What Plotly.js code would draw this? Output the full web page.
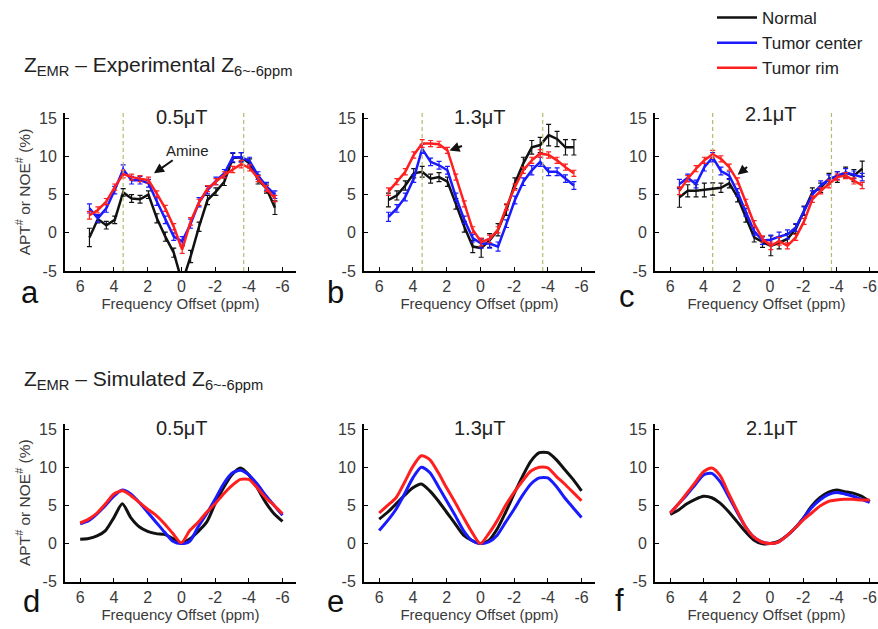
<!DOCTYPE html>
<html>
<head>
<meta charset="utf-8">
<script src="https://cdn.plot.ly/plotly-3.0.1.min.js"></script>
<style>html,body{margin:0;padding:0;background:#fff;}#chart{width:878px;height:629px;}</style>
</head>
<body>
<div id="chart"></div>
<script>
// ---------- DATA ----------
const seriesNames = ['Normal', 'Tumor center', 'Tumor rim'];
const panelTitles = ['0.5μT', '1.3μT', '2.1μT'];
const panelLetters = ['a', 'b', 'c', 'd', 'e', 'f'];
const xTickVals = [6, 4, 2, 0, -2, -4, -6];
const xTickText = ['6', '4', '2', '0', '-2', '-4', '-6'];
const yTickVals = [-5, 0, 5, 10, 15];
const yTickText = ['-5', '0', '5', '10', '15'];
const dashedLinePpm = [3.45, -3.7];

// experimental offsets (ppm)
const xExp = [5.45, 4.95, 4.45, 3.95, 3.45, 2.95, 2.45, 1.95, 1.45, 0.95, 0.45, -0.05, -0.55, -1.05, -1.55, -2.05, -2.55, -3.05, -3.55, -4.05, -4.55, -5.05, -5.55];
// simulated offsets (ppm)
const xSim = [6, 5.5, 5, 4.5, 4, 3.5, 3, 2.5, 2, 1.5, 1, 0.5, 0, -0.5, -1, -1.5, -2, -2.5, -3, -3.5, -4, -4.5, -5, -5.5, -6];

// panel a (0.5 uT, experimental)
const expNormalA = [-0.6, 1.8, 1.0, 1.7, 5.3, 4.5, 4.4, 5.0, 1.9, -0.5, -2.6, -6.5, -3.1, 0.8, 4.3, 5.4, 6.7, 9.8, 9.9, 9.1, 7.0, 5.8, 3.3];
const expCenterA = [3.2, 1.9, 3.2, 5.6, 8.3, 6.9, 6.9, 6.5, 4.1, 1.7, -0.5, -1.1, 1.2, 4.0, 5.6, 6.8, 7.8, 9.9, 9.9, 9.4, 7.5, 6.1, 5.0];
const expRimA    = [2.3, 3.0, 4.1, 6.0, 7.7, 7.3, 7.1, 6.9, 5.1, 3.2, 0.8, -2.2, 1.5, 4.0, 5.8, 6.7, 7.6, 8.3, 9.0, 8.5, 7.1, 5.8, 4.5];
// panel b (1.3 uT, experimental)
const expNormalB = [4.3, 4.9, 6.2, 7.8, 8.0, 7.1, 7.3, 6.7, 3.8, 0.8, -1.8, -2.0, -1.0, 0.4, 3.0, 6.5, 9.1, 11.2, 11.5, 12.8, 12.3, 11.2, 11.2];
const expCenterB = [2.1, 3.2, 4.7, 7.1, 11.0, 9.3, 8.85, 8.2, 4.7, 1.7, -0.7, -1.4, -1.4, -1.8, 1.2, 4.3, 6.7, 8.2, 9.3, 8.0, 8.0, 7.1, 6.2];
const expRimB    = [5.4, 6.7, 8.0, 10.2, 11.7, 11.7, 11.6, 10.8, 7.3, 3.8, 0.4, -1.2, -0.8, 0.4, 3.4, 6.0, 8.2, 9.5, 10.4, 10.2, 9.5, 8.6, 7.8];
// panel c (2.1 uT, experimental)
const expNormalC = [4.65, 5.5, 5.5, 5.6, 5.75, 5.9, 6.5, 4.65, 2.0, -0.6, -1.2, -1.7, -1.3, -0.8, 0.5, 2.9, 5.3, 5.9, 7.1, 7.3, 7.9, 7.5, 8.4];
const expCenterC = [6.4, 7.2, 6.4, 8.6, 9.9, 8.1, 7.5, 5.3, 2.7, 0.2, -1.0, -0.9, -0.5, -0.2, 0.7, 2.9, 5.0, 6.2, 7.0, 7.5, 7.9, 7.6, 7.3];
const expRimC    = [5.5, 7.1, 8.4, 9.5, 10.3, 9.7, 8.6, 6.8, 4.0, 1.2, -0.8, -1.7, -1.1, -1.7, -0.6, 1.5, 4.4, 5.5, 6.4, 7.3, 7.5, 6.8, 6.2];

// error bars (experimental)
const errNormalA = [1.2, 0.5, 0.5, 0.5, 0.5, 0.5, 0.5, 0.5, 0.6, 0.6, 0.6, 0.8, 0.8, 0.6, 0.6, 0.5, 0.5, 0.6, 0.6, 0.6, 0.6, 0.6, 0.9];
const errNormalB = [0.9, 0.6, 0.6, 0.6, 0.7, 0.6, 0.6, 0.6, 0.7, 0.7, 0.8, 1.2, 0.9, 0.8, 0.7, 0.7, 0.8, 0.9, 1.0, 1.4, 1.0, 1.0, 1.0];
const errNormalC = [1.3, 0.8, 0.8, 0.9, 0.8, 0.6, 0.6, 0.6, 0.6, 0.6, 0.7, 1.3, 0.8, 0.7, 0.6, 0.6, 0.6, 0.6, 0.7, 0.7, 0.7, 0.8, 1.0];
const errCenter  = [0.6, 0.5, 0.5, 0.5, 0.6, 0.5, 0.5, 0.5, 0.5, 0.5, 0.5, 0.6, 0.6, 0.6, 0.5, 0.5, 0.5, 0.6, 0.6, 0.5, 0.5, 0.5, 0.5];
const errRim     = [0.5, 0.4, 0.4, 0.4, 0.5, 0.4, 0.4, 0.4, 0.4, 0.4, 0.4, 0.5, 0.5, 0.4, 0.4, 0.4, 0.4, 0.4, 0.5, 0.4, 0.4, 0.4, 0.4];

// panel d (0.5 uT, simulated)
const simNormalD = [0.56, 0.65, 1.0, 1.7, 3.4, 5.2, 3.4, 2.2, 1.6, 1.3, 1.2, 0.65, 0.0, 0.6, 1.6, 2.8, 5.2, 7.3, 9.0, 9.9, 9.0, 7.3, 5.4, 3.9, 2.9];
const simCenterD = [2.6, 3.0, 3.9, 5.0, 6.2, 7.0, 6.5, 5.4, 4.1, 2.8, 1.5, 0.3, 0.0, 0.3, 2.2, 3.9, 5.8, 7.8, 9.2, 9.6, 9.0, 7.8, 6.3, 5.0, 3.7];
const simRimD    = [2.7, 3.2, 4.0, 5.2, 6.5, 6.9, 6.3, 5.4, 4.5, 3.7, 2.6, 1.3, 0.1, 1.7, 2.8, 4.1, 5.2, 6.5, 7.6, 8.4, 8.4, 7.3, 6.0, 5.0, 3.9];
// panel e (1.3 uT, simulated)
const simNormalE = [3.2, 4.1, 5.2, 6.3, 7.3, 7.8, 6.9, 5.6, 4.1, 2.6, 1.1, 0.4, 0.0, 0.4, 1.9, 4.1, 6.5, 8.8, 10.8, 11.9, 11.9, 11.0, 9.7, 8.4, 6.9];
const simCenterE = [1.7, 3.0, 4.5, 6.5, 8.6, 10.0, 9.3, 7.5, 5.6, 3.7, 1.7, 0.4, 0.0, 0.2, 1.1, 2.8, 4.5, 6.3, 7.8, 8.6, 8.6, 7.5, 6.0, 4.7, 3.4];
const simRimE    = [4.0, 5.0, 6.0, 8.0, 10.1, 11.5, 11.0, 9.3, 7.3, 5.4, 3.4, 1.5, 0.0, 1.3, 3.0, 5.0, 6.7, 8.2, 9.5, 10.0, 9.9, 8.8, 7.8, 6.7, 5.6];
// panel f (2.1 uT, simulated)
const simNormalF = [3.8, 4.4, 5.2, 5.8, 6.2, 6.0, 5.3, 4.2, 2.9, 1.6, 0.5, 0.0, 0.0, 0.3, 1.0, 2.0, 3.3, 4.9, 6.0, 6.7, 7.0, 6.8, 6.6, 6.2, 5.5];
const simCenterF = [4.0, 5.2, 6.4, 7.7, 9.0, 9.2, 8.1, 6.2, 4.2, 2.3, 0.9, 0.2, 0.0, 0.2, 1.0, 2.0, 3.3, 4.7, 5.7, 6.4, 6.7, 6.5, 6.2, 5.8, 5.4];
const simRimF    = [4.0, 5.2, 6.6, 8.0, 9.4, 9.9, 8.9, 6.6, 4.4, 2.3, 0.9, 0.2, 0.0, 0.2, 1.0, 2.0, 3.1, 4.0, 4.9, 5.5, 5.7, 5.8, 5.8, 5.7, 5.7];

// ---------- STYLE / LAYOUT ----------
const W = 878, H = 629;
const px = v => v / W;
const py = v => 1 - v / H;
const colors = ['#111111', '#1a1aff', '#ff1f1f'];
const FONT = 'Liberation Sans, Arial, sans-serif';
const TXT = '#3a3a3a';

const colDomains = [[px(65), px(296)], [px(364), px(595)], [px(655), 1]];
const rowDomains = [[py(271), py(113)], [py(581.7), py(423.7)]];
const colRanges = [[6.9, -6.8], [6.9, -6.8], [6.92, -6.5]];

const panels = [
  {x: xExp, ys: [expNormalA, expCenterA, expRimA], errs: [errNormalA, errCenter, errRim], sim: false},
  {x: xExp, ys: [expNormalB, expCenterB, expRimB], errs: [errNormalB, errCenter, errRim], sim: false},
  {x: xExp, ys: [expNormalC, expCenterC, expRimC], errs: [errNormalC, errCenter, errRim], sim: false},
  {x: xSim, ys: [simNormalD, simCenterD, simRimD], sim: true},
  {x: xSim, ys: [simNormalE, simCenterE, simRimE], sim: true},
  {x: xSim, ys: [simNormalF, simCenterF, simRimF], sim: true}
];

const traces = [];
const layout = {
  width: W, height: H,
  margin: {l: 0, r: 0, t: 0, b: 0},
  paper_bgcolor: '#fff', plot_bgcolor: 'rgba(0,0,0,0)',
  font: {family: FONT, color: TXT, size: 15},
  showlegend: true,
  legend: {x: px(712), y: py(0), xanchor: 'left', yanchor: 'top', bgcolor: 'rgba(0,0,0,0)',
           font: {family: FONT, size: 17, color: '#222'}, tracegroupgap: 0, itemwidth: 40},
  annotations: [], shapes: []
};

panels.forEach((p, i) => {
  const n = i + 1;
  const xa = n === 1 ? 'x' : 'x' + n;
  const ya = n === 1 ? 'y' : 'y' + n;
  const col = i % 3, row = Math.floor(i / 3);
  p.ys.forEach((ys, s) => {
    const t = {
      type: 'scatter', mode: 'lines', x: p.x, y: ys, xaxis: xa, yaxis: ya,
      name: seriesNames[s], legendgroup: seriesNames[s], showlegend: i === 0,
      line: {color: colors[s], width: p.sim ? 3 : 2.5, shape: p.sim ? 'spline' : 'linear', smoothing: 0.7},
      hoverinfo: 'skip'
    };
    if (!p.sim) {
      t.error_y = {type: 'data', array: p.errs[s], visible: true, color: colors[s], thickness: 1.2, width: 2.5};
    }
    traces.push(t);
  });
  const xKey = n === 1 ? 'xaxis' : 'xaxis' + n;
  const yKey = n === 1 ? 'yaxis' : 'yaxis' + n;
  layout[xKey] = {
    domain: colDomains[col], anchor: ya, range: colRanges[col],
    tickmode: 'array', tickvals: xTickVals, ticktext: xTickText,
    ticks: 'inside', ticklen: 4, tickwidth: 1, tickcolor: '#000',
    showline: true, linecolor: '#000', linewidth: 2, showgrid: false, zeroline: false,
    tickfont: {family: FONT, size: 16, color: TXT},
    title: {text: 'Frequency Offset (ppm)', font: {family: FONT, size: 15, color: TXT}, standoff: 0},
    automargin: false, fixedrange: true
  };
  const yAxisObj = {
    domain: rowDomains[row], anchor: xa, range: [-5, 15.7],
    tickmode: 'array', tickvals: yTickVals, ticktext: yTickText,
    ticks: 'inside', ticklen: 4, tickwidth: 1, tickcolor: '#000',
    showline: true, linecolor: '#000', linewidth: 2, showgrid: false, zeroline: false,
    tickfont: {family: FONT, size: 16, color: TXT}, ticklabelstandoff: 3,
    automargin: false, fixedrange: true
  };
  if (col === 0) {
    yAxisObj.title = {text: 'APT<sup>#</sup> or NOE<sup>#</sup> (%)', font: {family: FONT, size: 15.5, color: TXT}, standoff: 5};
  }
  layout[yKey] = yAxisObj;
  // dashed reference lines in experimental panels
  if (!p.sim) {
    dashedLinePpm.forEach(v => {
      layout.shapes.push({type: 'line', xref: xa, yref: ya + ' domain', x0: v, x1: v, y0: 0, y1: 1,
        line: {color: '#b9b86e', width: 1.2, dash: '4px,3px'}});
    });
  }
});

// headings
layout.annotations.push(
  {xref: 'paper', yref: 'paper', x: px(22), y: py(66), xanchor: 'left', yanchor: 'middle', showarrow: false,
   text: 'Z<sub>EMR</sub> – Experimental Z<sub>6~-6ppm</sub>', font: {family: FONT, size: 21, color: '#222'}},
  {xref: 'paper', yref: 'paper', x: px(22), y: py(380), xanchor: 'left', yanchor: 'middle', showarrow: false,
   text: 'Z<sub>EMR</sub> – Simulated Z<sub>6~-6ppm</sub>', font: {family: FONT, size: 21, color: '#222'}}
);
// panel titles
const titlePos = [[182, 117], [480, 117], [771, 114], [182, 428], [480, 428], [772, 428]];
titlePos.forEach((tp, i) => {
  layout.annotations.push({xref: 'paper', yref: 'paper', x: px(tp[0]), y: py(tp[1]), xanchor: 'center', yanchor: 'middle',
    showarrow: false, text: panelTitles[i % 3], font: {family: FONT, size: 20, color: '#222'}});
});
// panel letters
const letterPos = [[30, 292], [335, 292], [627, 296], [31, 601], [335, 601], [619, 600]];
letterPos.forEach((lp, i) => {
  layout.annotations.push({xref: 'paper', yref: 'paper', x: px(lp[0]), y: py(lp[1]), xanchor: 'center', yanchor: 'middle',
    showarrow: false, text: panelLetters[i], font: {family: FONT, size: 31, color: '#111'}});
});
// arrows
layout.annotations.push(
  {xref: 'x', yref: 'y', x: 1.62, y: 7.8, ax: 33, ay: -23, text: 'Amine', showarrow: true,
   arrowhead: 2, arrowsize: 1, arrowwidth: 2, arrowcolor: '#111', font: {family: FONT, size: 15, color: '#222'}},
  {xref: 'x2', yref: 'y2', x: 1.83, y: 10.8, ax: 14, ay: -5, text: '', showarrow: true,
   arrowhead: 2, arrowsize: 1, arrowwidth: 2, arrowcolor: '#111'},
  {xref: 'x3', yref: 'y3', x: 1.95, y: 7.6, ax: 11, ay: -9, text: '', showarrow: true,
   arrowhead: 2, arrowsize: 1, arrowwidth: 2, arrowcolor: '#111'}
);

Plotly.newPlot('chart', traces, layout, {staticPlot: true, displayModeBar: false});
</script>
</body>
</html>
